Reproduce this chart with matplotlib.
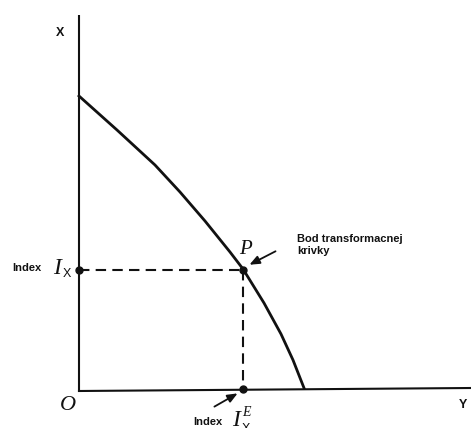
import matplotlib
matplotlib.use("Agg")
import matplotlib.pyplot as plt

# curve of the transformation frontier (Y, X)
curve_y = [0, 38, 76, 101, 126, 151, 164, 185, 202, 214, 225]
curve_x = [294, 260, 225, 198, 169, 138, 121, 87, 56, 30, 2]

# point P on the curve and the axis extents
p_y, p_x = 164, 120
x_axis_end = 392
y_axis_top = 375

SANS = "Liberation Sans"
SERIF = "Liberation Serif"
INK = "#111111"

fig = plt.figure(figsize=(4.71, 4.28), dpi=100)
ax = fig.add_axes([0, 0, 1, 1])
ax.set_xlim(-79, 392)
ax.set_ylim(-38, 390)
ax.axis("off")

# axes
ax.plot([0, 0], [-2, y_axis_top], color=INK, lw=1.5, solid_capstyle="butt")
ax.plot([0, x_axis_end], [-1, 2], color=INK, lw=1.5)

# curve
ax.plot(curve_y, curve_x, color=INK, lw=2.0, solid_joinstyle="round")

# dashed guides
ax.plot([0, p_y], [p_x, p_x], color=INK, lw=1.5, ls=(0, (5, 3)))
ax.plot([p_y, p_y], [p_x, 1], color=INK, lw=1.5, ls=(0, (5, 3)))

# dots
ax.plot([0, p_y, p_y], [p_x, p_x, 1], "o", color=INK, ms=5)

# axis labels
ax.text(-19, 357, "X", fontsize=9, fontweight="bold", family=SANS,
        ha="center", va="center", color=INK)
ax.text(384, -15, "Y", fontsize=9, fontweight="bold", family=SANS,
        ha="center", va="center", color=INK)
ax.text(-11, -16, "O", fontsize=16, style="italic", family=SERIF,
        ha="center", va="center", color=INK)

# I_X on the vertical axis
ax.text(-52, p_x + 2, "Index", fontsize=8, fontweight="bold", family=SANS,
        ha="center", va="center", color=INK)
ax.text(-22, p_x + 2, "I", fontsize=17, style="italic", family=SERIF,
        ha="center", va="center", color=INK)
ax.text(-12, p_x - 4, "X", fontsize=9, family=SANS,
        ha="center", va="center", color=INK)

# P and its annotation
ax.text(p_y + 2, p_x + 21, "P", fontsize=15, style="italic", family=SERIF,
        ha="center", va="center", color=INK)
ax.annotate("", xy=(p_y + 4, p_x + 4), xytext=(p_y + 35, p_x + 20),
            arrowprops=dict(arrowstyle="-|>,head_length=0.6,head_width=0.25",
                            color=INK, lw=1.3))
ax.text(218, 145, "Bod transformacnej\nkrivky", fontsize=8,
        fontweight="bold", family=SANS, ha="left", va="center",
        color=INK, linespacing=1.35)

# I_X^E on the horizontal axis
ax.annotate("", xy=(p_y - 3, -2), xytext=(p_y - 31, -18),
            arrowprops=dict(arrowstyle="-|>,head_length=0.6,head_width=0.25",
                            color=INK, lw=1.3))
ax.text(129, -32, "Index", fontsize=8, fontweight="bold", family=SANS,
        ha="center", va="center", color=INK)
ax.text(157, -31, "I", fontsize=17, style="italic", family=SERIF,
        ha="center", va="center", color=INK)
ax.text(167, -22, "E", fontsize=10, style="italic", family=SERIF,
        ha="center", va="center", color=INK)
ax.text(167, -39, "X", fontsize=9, family=SANS,
        ha="center", va="center", color=INK)

fig.savefig("out.png", dpi=100, facecolor="white")
